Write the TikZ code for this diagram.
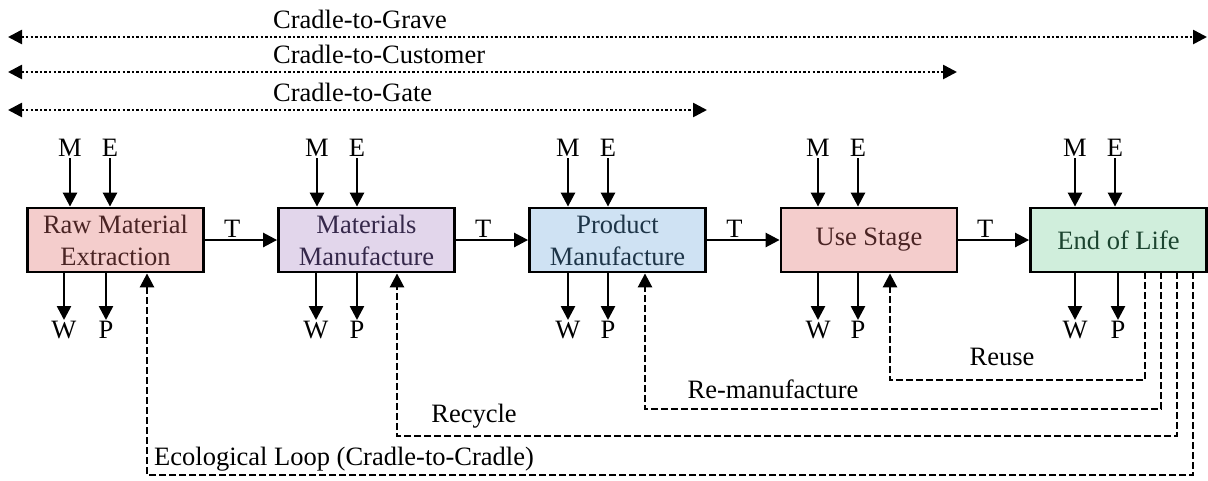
\documentclass[tikz,border=0pt]{standalone}
\usepackage{fontspec}
\setmainfont{Liberation Serif}
\usetikzlibrary{arrows.meta}
\definecolor{fpink}{HTML}{F4CDCC}
\definecolor{fviolet}{HTML}{E2D6EB}
\definecolor{fblue}{HTML}{CFE2F3}
\definecolor{fgreen}{HTML}{D0EEDC}
\definecolor{tred}{HTML}{4A2424}
\definecolor{tviolet}{HTML}{35284A}
\definecolor{tblue}{HTML}{1E3548}
\definecolor{tgreen}{HTML}{1C4530}
\tikzset{
  stagebox/.style={draw=black, line width=2.8pt, minimum width=176pt, minimum height=64pt,
    inner sep=0pt, align=center, font=\fontsize{26.5}{32}\selectfont},
  lbl/.style={inner sep=1pt, font=\fontsize{26.5}{30}\selectfont},
  flow/.style={line width=2.6pt, -{Triangle[length=14pt,width=14pt]}},
  scope/.style={line width=2.6pt, dash pattern=on 2.4pt off 2.2pt,
    {Triangle[length=14pt,width=14pt]}-{Triangle[length=14pt,width=14pt]}},
  loopline/.style={line width=2.6pt, dash pattern=on 7pt off 3pt,
    -{Triangle[length=14pt,width=14pt]}}
}
\begin{document}
\begin{tikzpicture}[x=1pt,y=-1pt]
\useasboundingbox (0,0) rectangle (1208,480);
% scope arrows
\coordinate (ga) at (8,37);   \coordinate (gb) at (1207,37);
\coordinate (ca) at (8,72);   \coordinate (cb) at (957,72);
\coordinate (ta) at (8,110);  \coordinate (tb) at (707,110);
\draw[scope] (ga) -- (gb);
\draw[scope] (ca) -- (cb);
\draw[scope] (ta) -- (tb);
\node[lbl, anchor=west] (lgrave) at (272,19) {Cradle-to-Grave};
\node[lbl, anchor=west] (lcust) at (272,54) {Cradle-to-Customer};
\node[lbl, anchor=west] (lgate) at (272,92) {Cradle-to-Gate};
% stages
\node[stagebox, fill=fpink, text=tred] (raw) at (115.5,240) {Raw Material\\Extraction};
\node[stagebox, fill=fviolet, text=tviolet] (mat) at (366.5,240) {Materials\\Manufacture};
\node[stagebox, fill=fblue, text=tblue] (prod) at (617.5,240) {Product\\Manufacture};
\node[stagebox, fill=fpink, text=tred] (use) at (869,240) {Use Stage};
\node[stagebox, fill=fgreen, text=tgreen] (eol) at (1118.5,240) {End of Life};
% transport
\draw[flow] (raw) -- node[lbl, pos=0.38, above] (t1) {T} (mat);
\draw[flow] (mat) -- node[lbl, pos=0.38, above] (t2) {T} (prod);
\draw[flow] (prod) -- node[lbl, pos=0.38, above] (t3) {T} (use);
\draw[flow] (use) -- node[lbl, pos=0.38, above] (t4) {T} (eol);
% inputs / outputs
\foreach \b/\mx/\ex/\wx/\px in {raw/70/110/64/106, mat/317/357/316/357, prod/568/608/568/608, use/818/858/818/858, eol/1075/1115/1075/1118}{
  \node[lbl, anchor=south] (\b m) at (\mx,158) {M};
  \node[lbl, anchor=south] (\b e) at (\ex,158) {E};
  \draw[flow] (\b m.south) -- (\b m.south |- \b.north);
  \draw[flow] (\b e.south) -- (\b e.south |- \b.north);
  \node[lbl, anchor=north] (\b w) at (\wx,320) {W};
  \node[lbl, anchor=north] (\b p) at (\px,320) {P};
  \draw[flow] (\b w.north |- \b.south) -- (\b w.north);
  \draw[flow] (\b p.north |- \b.south) -- (\b p.north);
}
% loops
\coordinate (r1) at (1145,272); \coordinate (r2) at (890,272);
\draw[loopline] (r1) |- (890,380) -- (r2 |- use.south);
\node[lbl] (lreuse) at (1002,357) {Reuse};
\coordinate (m1) at (1161,272); \coordinate (m2) at (645,272);
\draw[loopline] (m1) |- (645,409) -- (m2 |- prod.south);
\node[lbl] (lreman) at (773,389) {Re-manufacture};
\coordinate (c1) at (1177,272); \coordinate (c2) at (397,272);
\draw[loopline] (c1) |- (397,436) -- (c2 |- mat.south);
\node[lbl] (lrecyc) at (474,416) {Recycle};
\coordinate (e1) at (1193,272); \coordinate (e2) at (147,272);
\draw[loopline] (e1) |- (147,475) -- (e2 |- raw.south);
\node[lbl, anchor=west] (leco) at (153,459) {Ecological Loop (Cradle-to-Cradle)};
\end{tikzpicture}
\end{document}
